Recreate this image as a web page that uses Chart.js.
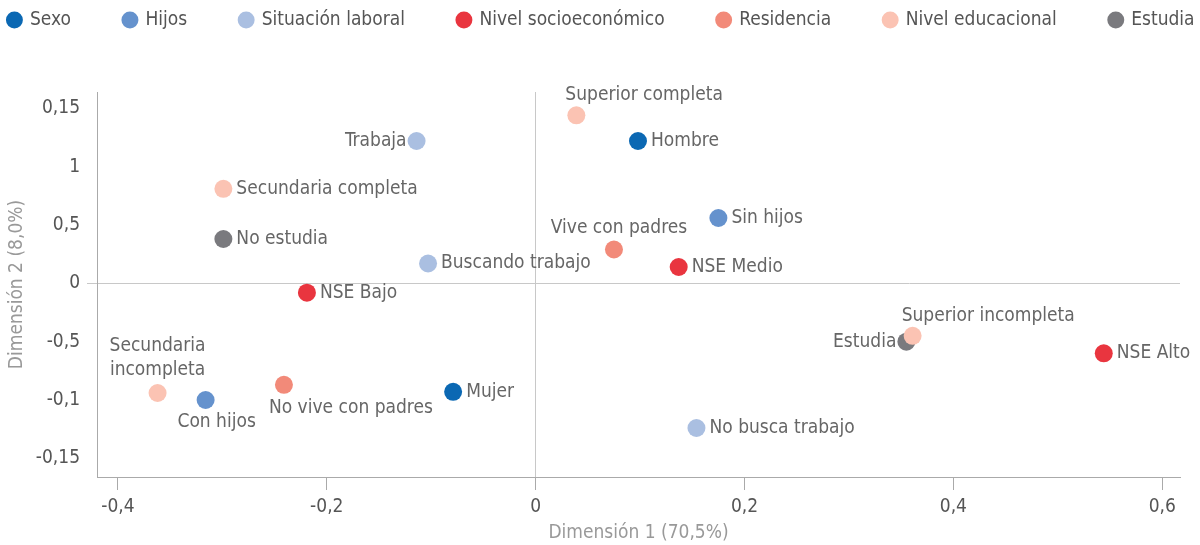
<!DOCTYPE html>
<html>
<head>
<meta charset="utf-8">
<script src="https://cdn.jsdelivr.net/npm/chart.js@4.4.1/dist/chart.umd.min.js"></script>
<style>
  html, body { margin: 0; padding: 0; background: #fff; }
  #wrap { width: 1200px; height: 545px; }
</style>
</head>
<body>
<div id="wrap"><canvas id="grafico"></canvas></div>
<script>
// Grupos (leyenda) y colores
const grupos = ['Sexo', 'Hijos', 'Situación laboral', 'Nivel socioeconómico', 'Residencia', 'Nivel educacional', 'Estudia'];
const colores = ['#0b68b3', '#6592cd', '#aabfe1', '#e9353f', '#f28a79', '#fbc3b3', '#7a7a7e'];

// Categorías y coordenadas
const nombres = ['Hombre', 'Mujer', 'Sin hijos', 'Con hijos', 'Trabaja', 'Buscando trabajo', 'No busca trabajo',
  'NSE Bajo', 'NSE Medio', 'NSE Alto', 'Vive con padres', 'No vive con padres',
  'Superior completa', 'Secundaria completa', 'Superior incompleta', 'Secundaria incompleta', 'Estudia', 'No estudia'];
const grupoDe = [0, 0, 1, 1, 2, 2, 2, 3, 3, 3, 4, 4, 5, 5, 5, 5, 6, 6];
const dim1 = [0.098, -0.079, 0.175, -0.316, -0.114, -0.103, 0.154, -0.219, 0.137, 0.544, 0.075, -0.241, 0.039, -0.299, 0.361, -0.362, 0.355, -0.299];
const dim2 = [0.122, -0.093, 0.056, -0.100, 0.122, 0.017, -0.124, -0.008, 0.014, -0.060, 0.029, -0.087, 0.144, 0.081, -0.045, -0.094, -0.050, 0.038];

// Marcas de los ejes
const ticksX = [-0.4, -0.2, 0, 0.2, 0.4, 0.6];
const ticksY = [-0.15, -0.1, -0.05, 0, 0.05, 0.1, 0.15];
const etiquetasY = ['-0,15', '-0,1', '-0,5', '0', '0,5', '1', '0,15'];

// Posición de cada etiqueta respecto a su punto
const posEtiqueta = ['right', 'right', 'right', 'below', 'left', 'right', 'right',
  'right', 'right', 'right', 'above', 'belowStart',
  'aboveStart', 'right', 'aboveStart', 'aboveTwo', 'left', 'right'];

const FUENTE = "'DejaVu Sans Condensed', 'DejaVu Sans', sans-serif";
const TAM = 19;
const SEP_LEYENDA = 53;

const datasets = grupos.map((g, gi) => {
  const puntos = [];
  nombres.forEach((n, i) => {
    if (grupoDe[i] === gi) puntos.push({ x: dim1[i], y: dim2[i], nombre: n, pos: posEtiqueta[i] });
  });
  return {
    label: g,
    data: puntos,
    backgroundColor: colores[gi],
    borderColor: colores[gi],
    borderWidth: 0,
    pointRadius: 9,
    pointHoverRadius: 9
  };
});

// Etiquetas de los puntos
const etiquetasPlugin = {
  id: 'etiquetas',
  afterDatasetsDraw(chart) {
    const ctx = chart.ctx;
    ctx.save();
    ctx.font = TAM + 'px ' + FUENTE;
    ctx.fillStyle = '#666';
    ctx.textBaseline = 'middle';
    chart.data.datasets.forEach((ds, di) => {
      const meta = chart.getDatasetMeta(di);
      meta.data.forEach((el, i) => {
        const p = ds.data[i];
        const x = el.x, y = el.y;
        if (p.pos === 'right') {
          ctx.textAlign = 'left';
          ctx.fillText(p.nombre, x + 13, y);
        } else if (p.pos === 'left') {
          ctx.textAlign = 'right';
          ctx.fillText(p.nombre, x - 10, y);
        } else if (p.pos === 'above') {
          ctx.textAlign = 'center';
          ctx.fillText(p.nombre, x + 5, y - 21);
        } else if (p.pos === 'below') {
          ctx.textAlign = 'center';
          ctx.fillText(p.nombre, x + 11, y + 22);
        } else if (p.pos === 'belowStart') {
          ctx.textAlign = 'left';
          ctx.fillText(p.nombre, x - 15, y + 23);
        } else if (p.pos === 'aboveStart') {
          ctx.textAlign = 'left';
          ctx.fillText(p.nombre, x - 11, y - 20);
        } else if (p.pos === 'aboveTwo') {
          ctx.textAlign = 'center';
          const partes = p.nombre.split(' ');
          ctx.fillText(partes[0], x, y - 47);
          ctx.fillText(partes[1], x, y - 23);
        }
      });
    });
    ctx.restore();
  }
};

// Leyenda en una sola fila, altura fija y separación amplia entre elementos
const leyendaPlugin = {
  id: 'alturaLeyenda',
  afterInit(chart) {
    const fitOriginal = chart.legend.fit;
    chart.legend.fit = function () {
      this.maxWidth = 1600;
      fitOriginal.call(this);
      this.height = 92;
    };
  },
  afterLayout(chart) {
    const lg = chart.legend;
    lg.top = 20 - TAM / 2 - SEP_LEYENDA;
    lg.right = 1300;
    lg.left = 1203 - lg.right;
  }
};

new Chart(document.getElementById('grafico'), {
  type: 'scatter',
  data: { datasets: datasets },
  plugins: [leyendaPlugin, etiquetasPlugin],
  options: {
    responsive: true,
    maintainAspectRatio: false,
    animation: false,
    layout: { padding: { left: 0, right: 20, top: 0, bottom: 0 } },
    plugins: {
      tooltip: { enabled: false },
      legend: {
        position: 'top',
        align: 'center',
        labels: {
          usePointStyle: true,
          pointStyle: 'circle',
          boxWidth: 12,
          boxHeight: 12,
          padding: SEP_LEYENDA,
          color: '#555',
          font: { family: FUENTE, size: TAM }
        }
      }
    },
    scales: {
      x: {
        type: 'linear',
        min: -0.42,
        max: 0.617,
        afterFit(s) { s.height = 68; },
        afterBuildTicks(s) { s.ticks = ticksX.map(v => ({ value: v })); },
        border: { display: true, color: '#aaa', width: 1 },
        grid: {
          drawOnChartArea: true,
          drawTicks: true,
          tickLength: 13,
          color: c => (c.tick && c.tick.value === 0 ? '#c8c8c8' : 'rgba(0,0,0,0)'),
          tickColor: '#aaa'
        },
        ticks: {
          color: '#555',
          padding: 6,
          font: { family: FUENTE, size: TAM },
          callback: v => String(v).replace('.', ',')
        },
        title: {
          display: true,
          text: 'Dimensión 1 (70,5%)',
          color: '#999',
          padding: { top: 0, bottom: 1 },
          font: { family: FUENTE, size: TAM }
        }
      },
      y: {
        type: 'linear',
        min: -0.166,
        max: 0.164,
        afterFit(s) { s.width = 97; },
        afterBuildTicks(s) { s.ticks = ticksY.map(v => ({ value: v })); },
        border: { display: true, color: '#aaa', width: 1 },
        grid: {
          drawOnChartArea: true,
          drawTicks: true,
          tickLength: 10,
          color: c => (c.tick && Math.abs(c.tick.value) < 1e-9 ? '#c8c8c8' : 'rgba(0,0,0,0)')
        },
        ticks: {
          color: '#555',
          padding: 7,
          font: { family: FUENTE, size: TAM },
          callback: (v, i) => etiquetasY[i]
        },
        title: {
          display: true,
          text: 'Dimensión 2 (8,0%)',
          color: '#999',
          padding: { top: 6, bottom: 0 },
          font: { family: FUENTE, size: TAM }
        }
      }
    }
  }
});
</script>
</body>
</html>
